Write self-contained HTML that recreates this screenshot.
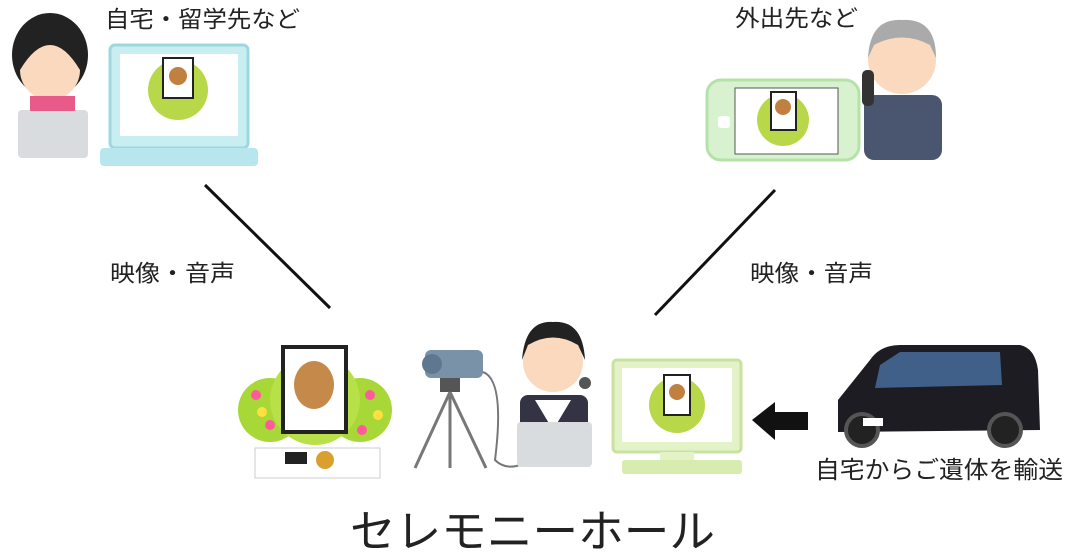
<!DOCTYPE html>
<html><head><meta charset="utf-8"><style>
html,body{margin:0;padding:0;background:#fff;width:1065px;height:559px;overflow:hidden}
svg{display:block}
text{font-family:"Liberation Sans","Noto Sans CJK JP",sans-serif;fill:#222}
</style></head><body>
<svg width="1065" height="559" viewBox="0 0 1065 559" xmlns="http://www.w3.org/2000/svg">
<text x="105" y="27" font-size="23" textLength="195" lengthAdjust="spacingAndGlyphs">自宅・留学先など</text>
<text x="735" y="26" font-size="23" textLength="123" lengthAdjust="spacingAndGlyphs">外出先など</text>
<text x="110" y="281" font-size="23" textLength="125" lengthAdjust="spacingAndGlyphs">映像・音声</text>
<text x="750" y="281" font-size="23" textLength="123" lengthAdjust="spacingAndGlyphs">映像・音声</text>
<text x="815" y="478" font-size="24" textLength="248" lengthAdjust="spacingAndGlyphs">自宅からご遺体を輸送</text>
<text x="350" y="547" font-size="45" textLength="365" lengthAdjust="spacingAndGlyphs">セレモニーホール</text>
<line x1="205" y1="185" x2="330" y2="308" stroke="#111" stroke-width="3"/>
<line x1="775" y1="190" x2="655" y2="315" stroke="#111" stroke-width="3"/>

<!-- top-left laptop -->
<rect x="110" y="45" width="138" height="103" rx="5" fill="#c8eef2" stroke="#9dd8e0" stroke-width="3"/>
<rect x="120" y="54" width="118" height="82" fill="#fff"/>
<rect x="100" y="148" width="158" height="18" rx="4" fill="#b8e6ee"/>
<circle cx="178" cy="90" r="30" fill="#b8d84a"/>
<rect x="163" y="58" width="30" height="40" fill="#fff" stroke="#222" stroke-width="2"/>
<circle cx="178" cy="76" r="9" fill="#c08040"/>
<!-- woman -->
<ellipse cx="50" cy="55" rx="38" ry="42" fill="#222"/>
<circle cx="50" cy="70" r="30" fill="#fbd9bf"/>
<path d="M20 70 Q50 20 80 70 L80 45 Q50 20 20 45Z" fill="#222"/>
<rect x="18" y="110" width="70" height="48" rx="4" fill="#d8dcde"/>
<rect x="30" y="96" width="45" height="15" fill="#e85a8a"/>

<!-- phone -->
<rect x="707" y="80" width="152" height="80" rx="14" fill="#d8f2d0" stroke="#b4e2a8" stroke-width="3"/>
<rect x="735" y="88" width="103" height="66" fill="#fff" stroke="#555"/>
<circle cx="783" cy="120" r="26" fill="#b8d84a"/>
<rect x="771" y="92" width="25" height="38" fill="#fff" stroke="#222" stroke-width="2"/>
<circle cx="783" cy="107" r="8" fill="#c08040"/>
<rect x="718" y="116" width="12" height="12" rx="3" fill="#fff"/>
<!-- man -->
<rect x="864" y="95" width="78" height="65" rx="10" fill="#4a5670"/>
<circle cx="902" cy="60" r="34" fill="#fbd9bf"/>
<path d="M868 58 Q870 18 902 20 Q936 18 936 58 L930 45 Q902 30 874 45Z" fill="#aaa"/>
<rect x="862" y="70" width="12" height="36" rx="5" fill="#333"/>

<!-- altar -->
<circle cx="270" cy="410" r="32" fill="#a8d838"/>
<circle cx="360" cy="410" r="32" fill="#a8d838"/>
<circle cx="315" cy="400" r="45" fill="#b8e048"/>
<rect x="283" y="347" width="63" height="85" fill="#fff" stroke="#222" stroke-width="4"/>
<ellipse cx="314" cy="385" rx="20" ry="24" fill="#c58a4a"/>
<rect x="255" y="448" width="125" height="30" fill="#fff" stroke="#ccc"/>
<rect x="285" y="452" width="22" height="12" fill="#222"/>
<circle cx="325" cy="460" r="9" fill="#d9a030"/>
<g fill="#ff5a9a"><circle cx="256" cy="395" r="5"/><circle cx="270" cy="425" r="5"/><circle cx="370" cy="395" r="5"/><circle cx="362" cy="430" r="5"/></g>
<g fill="#ffe040"><circle cx="262" cy="412" r="5"/><circle cx="378" cy="415" r="5"/></g>

<!-- camera -->
<rect x="425" y="350" width="58" height="28" rx="6" fill="#7a92a8"/>
<circle cx="432" cy="364" r="10" fill="#5f7890"/>
<rect x="440" y="378" width="20" height="14" fill="#555"/>
<line x1="450" y1="392" x2="415" y2="468" stroke="#777" stroke-width="3"/>
<line x1="450" y1="392" x2="450" y2="468" stroke="#777" stroke-width="3"/>
<line x1="450" y1="392" x2="486" y2="468" stroke="#777" stroke-width="3"/>
<path d="M483 372 Q505 380 495 460 Q505 470 520 465" fill="none" stroke="#777" stroke-width="2"/>
<!-- operator -->
<rect x="520" y="395" width="68" height="40" rx="8" fill="#334"/>
<path d="M535 400 L553 430 L571 400Z" fill="#fff"/>
<circle cx="553" cy="362" r="30" fill="#fbd9bf"/>
<path d="M522 360 Q525 320 553 322 Q583 320 585 360 L578 345 Q553 330 528 345Z" fill="#222"/>
<circle cx="585" cy="383" r="6" fill="#555"/>
<rect x="517" y="422" width="75" height="45" rx="4" fill="#d8dcde"/>

<!-- monitor -->
<rect x="613" y="360" width="128" height="92" rx="4" fill="#e4f2c8" stroke="#c8e2a0" stroke-width="3"/>
<rect x="622" y="368" width="110" height="74" fill="#fff"/>
<circle cx="677" cy="405" r="28" fill="#b8d84a"/>
<rect x="664" y="375" width="26" height="40" fill="#fff" stroke="#222" stroke-width="2"/>
<circle cx="677" cy="392" r="8" fill="#c08040"/>
<rect x="660" y="452" width="34" height="10" fill="#e4f2c8"/>
<rect x="622" y="460" width="120" height="14" rx="3" fill="#d8ecb0"/>

<!-- arrow -->
<path d="M752 420 L775 402 L775 412 L808 412 L808 430 L775 430 L775 440Z" fill="#111"/>

<!-- car -->
<path d="M838 400 L870 360 Q880 345 900 345 L1020 345 Q1035 348 1038 370 L1040 430 L838 432Z" fill="#1c1c22"/>
<path d="M880 365 L900 352 L1000 352 L1002 385 L875 388Z" fill="#40608a"/>
<circle cx="862" cy="430" r="16" fill="#222" stroke="#555" stroke-width="4"/>
<circle cx="1005" cy="430" r="16" fill="#222" stroke="#555" stroke-width="4"/>
<rect x="863" y="418" width="20" height="8" fill="#fff"/>
</svg>
</body></html>
